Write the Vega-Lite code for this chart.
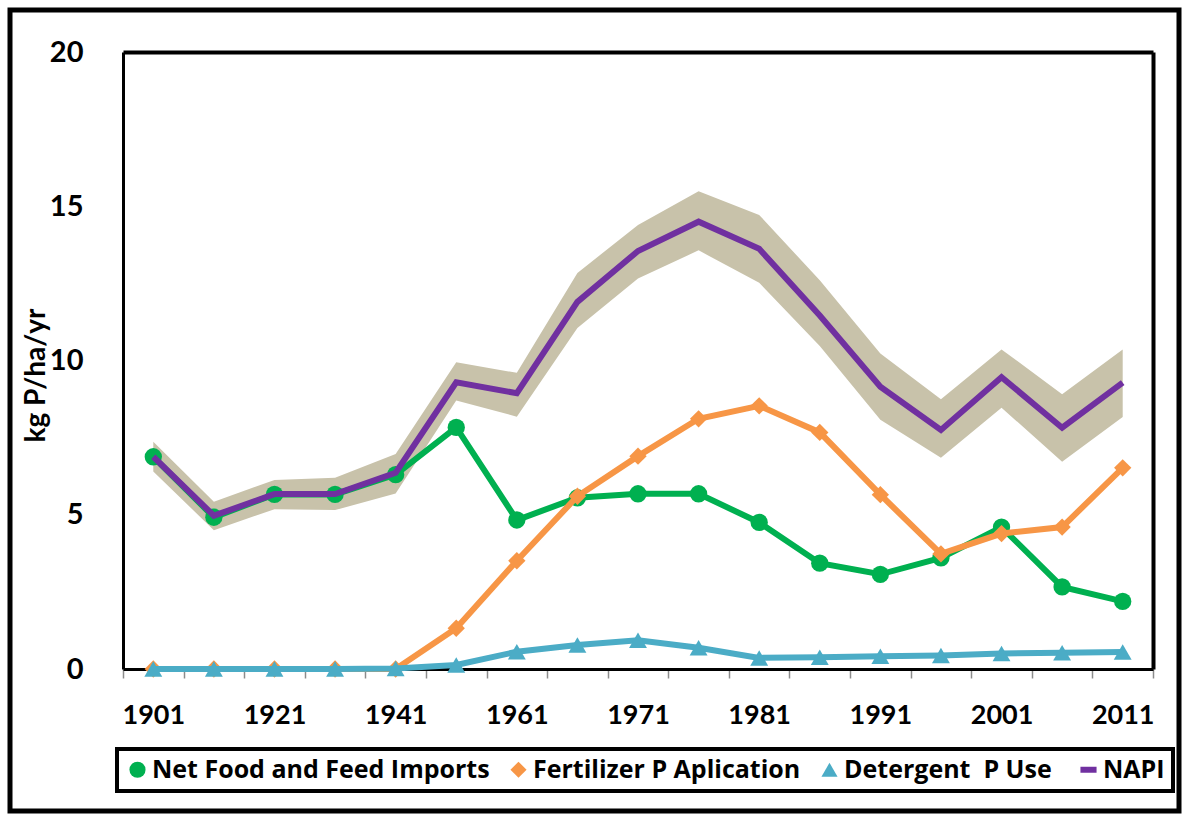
{
  "$schema": "https://vega.github.io/schema/vega-lite/v6.json",
  "width": 1169,
  "height": 801,
  "autosize": {"type": "none"},
  "padding": {"left": 10, "top": 10, "right": 3, "bottom": 3},
  "background": "white",
  "config": {
    "font": "Lato",
    "view": {"stroke": "black", "strokeWidth": 5},
    "legend": {"strokeWidth": 4}
  },
  "datasets": {
    "series": [
      {"year": "1901", "series": "Net Food and Feed Imports", "value": 6.88},
      {"year": "1911", "series": "Net Food and Feed Imports", "value": 4.92},
      {"year": "1921", "series": "Net Food and Feed Imports", "value": 5.66},
      {"year": "1931", "series": "Net Food and Feed Imports", "value": 5.66},
      {"year": "1941", "series": "Net Food and Feed Imports", "value": 6.3},
      {"year": "1951", "series": "Net Food and Feed Imports", "value": 7.83},
      {"year": "1961", "series": "Net Food and Feed Imports", "value": 4.83},
      {"year": "1966", "series": "Net Food and Feed Imports", "value": 5.55},
      {"year": "1971", "series": "Net Food and Feed Imports", "value": 5.68},
      {"year": "1976", "series": "Net Food and Feed Imports", "value": 5.68},
      {"year": "1981", "series": "Net Food and Feed Imports", "value": 4.75},
      {"year": "1986", "series": "Net Food and Feed Imports", "value": 3.43},
      {"year": "1991", "series": "Net Food and Feed Imports", "value": 3.07},
      {"year": "1996", "series": "Net Food and Feed Imports", "value": 3.6},
      {"year": "2001", "series": "Net Food and Feed Imports", "value": 4.6},
      {"year": "2006", "series": "Net Food and Feed Imports", "value": 2.66},
      {"year": "2011", "series": "Net Food and Feed Imports", "value": 2.19},
      {"year": "1901", "series": "Fertilizer P Aplication", "value": 0},
      {"year": "1911", "series": "Fertilizer P Aplication", "value": 0},
      {"year": "1921", "series": "Fertilizer P Aplication", "value": 0},
      {"year": "1931", "series": "Fertilizer P Aplication", "value": 0},
      {"year": "1941", "series": "Fertilizer P Aplication", "value": 0},
      {"year": "1951", "series": "Fertilizer P Aplication", "value": 1.32},
      {"year": "1961", "series": "Fertilizer P Aplication", "value": 3.51},
      {"year": "1966", "series": "Fertilizer P Aplication", "value": 5.6},
      {"year": "1971", "series": "Fertilizer P Aplication", "value": 6.9},
      {"year": "1976", "series": "Fertilizer P Aplication", "value": 8.11},
      {"year": "1981", "series": "Fertilizer P Aplication", "value": 8.53},
      {"year": "1986", "series": "Fertilizer P Aplication", "value": 7.67},
      {"year": "1991", "series": "Fertilizer P Aplication", "value": 5.65},
      {"year": "1996", "series": "Fertilizer P Aplication", "value": 3.73},
      {"year": "2001", "series": "Fertilizer P Aplication", "value": 4.39},
      {"year": "2006", "series": "Fertilizer P Aplication", "value": 4.6},
      {"year": "2011", "series": "Fertilizer P Aplication", "value": 6.52},
      {"year": "1901", "series": "Detergent  P Use", "value": 0},
      {"year": "1911", "series": "Detergent  P Use", "value": 0},
      {"year": "1921", "series": "Detergent  P Use", "value": 0},
      {"year": "1931", "series": "Detergent  P Use", "value": 0},
      {"year": "1941", "series": "Detergent  P Use", "value": 0.02},
      {"year": "1951", "series": "Detergent  P Use", "value": 0.13},
      {"year": "1961", "series": "Detergent  P Use", "value": 0.56},
      {"year": "1966", "series": "Detergent  P Use", "value": 0.78},
      {"year": "1971", "series": "Detergent  P Use", "value": 0.93},
      {"year": "1976", "series": "Detergent  P Use", "value": 0.69},
      {"year": "1981", "series": "Detergent  P Use", "value": 0.36},
      {"year": "1986", "series": "Detergent  P Use", "value": 0.38},
      {"year": "1991", "series": "Detergent  P Use", "value": 0.41},
      {"year": "1996", "series": "Detergent  P Use", "value": 0.44},
      {"year": "2001", "series": "Detergent  P Use", "value": 0.5},
      {"year": "2006", "series": "Detergent  P Use", "value": 0.53},
      {"year": "2011", "series": "Detergent  P Use", "value": 0.55},
      {"year": "1901", "series": "NAPI", "value": 6.88},
      {"year": "1911", "series": "NAPI", "value": 4.97},
      {"year": "1921", "series": "NAPI", "value": 5.67},
      {"year": "1931", "series": "NAPI", "value": 5.67},
      {"year": "1941", "series": "NAPI", "value": 6.36},
      {"year": "1951", "series": "NAPI", "value": 9.29},
      {"year": "1961", "series": "NAPI", "value": 8.94},
      {"year": "1966", "series": "NAPI", "value": 11.9},
      {"year": "1971", "series": "NAPI", "value": 13.55},
      {"year": "1976", "series": "NAPI", "value": 14.5},
      {"year": "1981", "series": "NAPI", "value": 13.62},
      {"year": "1986", "series": "NAPI", "value": 11.46},
      {"year": "1991", "series": "NAPI", "value": 9.15},
      {"year": "1996", "series": "NAPI", "value": 7.75},
      {"year": "2001", "series": "NAPI", "value": 9.46},
      {"year": "2006", "series": "NAPI", "value": 7.82},
      {"year": "2011", "series": "NAPI", "value": 9.28}
    ],
    "band": [
      {"year": "1901", "lo": 6.4, "hi": 7.37},
      {"year": "1911", "lo": 4.5, "hi": 5.42},
      {"year": "1921", "lo": 5.18, "hi": 6.13},
      {"year": "1931", "lo": 5.15, "hi": 6.2},
      {"year": "1941", "lo": 5.69, "hi": 6.97},
      {"year": "1951", "lo": 8.7, "hi": 9.94},
      {"year": "1961", "lo": 8.18, "hi": 9.6},
      {"year": "1966", "lo": 11.05, "hi": 12.84},
      {"year": "1971", "lo": 12.66, "hi": 14.39},
      {"year": "1976", "lo": 13.57, "hi": 15.49},
      {"year": "1981", "lo": 12.52, "hi": 14.72},
      {"year": "1986", "lo": 10.47, "hi": 12.6},
      {"year": "1991", "lo": 8.08, "hi": 10.23},
      {"year": "1996", "lo": 6.85, "hi": 8.74},
      {"year": "2001", "lo": 8.47, "hi": 10.36},
      {"year": "2006", "lo": 6.72, "hi": 8.91},
      {"year": "2011", "lo": 8.17, "hi": 10.36}
    ]
  },
  "resolve": {"axis": {"x": "independent", "y": "independent"}},
  "layer": [
    {
      "data": {"name": "band"},
      "mark": {"type": "area", "color": "#C8C2AA", "opacity": 1},
      "encoding": {
        "x": {
          "field": "year", "type": "ordinal",
          "scale": {"type": "band", "domain": ["1901","1911","1921","1931","1941","1951","1961","1966","1971","1976","1981","1986","1991","1996","2001","2006","2011"], "range": [113, 1143], "paddingInner": 0, "paddingOuter": 0},
          "axis": {
            "orient": "bottom", "offset": -142, "title": null, "labelAngle": 0,
            "labelFont": "Lato", "labelFontSize": 27, "labelFontWeight": "bold", "labelColor": "black",
            "labelPadding": 24, "tickBand": "extent", "tickSize": 9, "tickColor": "#8c8c8c", "tickWidth": 1.5,
            "domainColor": "black", "domainWidth": 3, "grid": false,
            "labelExpr": "indexof(['1911','1931','1951','1966','1976','1986','1996','2006'], datum.label) >= 0 ? '' : datum.label"
          }
        },
        "y": {
          "field": "lo", "type": "quantitative",
          "scale": {"domain": [0, 20], "range": [659, 42], "nice": false, "zero": true},
          "axis": {
            "orient": "left", "offset": -113, "values": [0, 5, 10, 15, 20], "ticks": false, "tickSize": 0,
            "labelPadding": 40, "labelFont": "Lato", "labelFontSize": 29, "labelFontWeight": "bold", "labelColor": "black",
            "domainColor": "black", "domainWidth": 3, "grid": false,
            "title": "kg P/ha/yr", "titleFont": "Lato", "titleFontSize": 28, "titleFontWeight": "bold", "titleColor": "black",
            "titleX": -87, "titleY": 365, "titleAngle": -90, "titleAlign": "center", "titleBaseline": "middle"
          }
        },
        "y2": {"field": "hi"}
      }
    },
    {
      "data": {"name": "series"},
      "transform": [{"filter": "datum.series === 'Net Food and Feed Imports'"}],
      "mark": {"type": "line", "strokeWidth": 6, "point": {"filled": true, "size": 300, "shape": "circle", "opacity": 1}},
      "encoding": {
        "x": {"field": "year", "type": "ordinal", "axis": null},
        "y": {"field": "value", "type": "quantitative", "axis": null},
        "color": {
          "field": "series", "type": "nominal",
          "scale": {"domain": ["Net Food and Feed Imports", "Fertilizer P Aplication", "Detergent  P Use", "NAPI"], "range": ["#00B050", "#F79646", "#4BACC6", "#7030A0"]},
          "legend": {
            "orient": "none", "legendX": 107, "legendY": 739, "direction": "horizontal", "columns": 4, "title": null,
            "labelFont": "Open Sans", "labelFontSize": 25, "labelFontWeight": "bold", "labelColor": "black", "labelLimit": 600, "labelOffset": 2,
            "labelExpr": "replace(datum.label, '  ', '\u00a0 ')",
            "symbolSize": 260, "columnPadding": 16, "padding": 8, "strokeColor": "black",
            "encode": {"symbols": {"update": {
              "shape": {"signal": "datum.value === 'NAPI' ? 'stroke' : datum.value === 'Fertilizer P Aplication' ? 'diamond' : datum.value === 'Detergent  P Use' ? 'triangle-up' : 'circle'"},
              "fill": {"signal": "datum.value === 'NAPI' ? 'transparent' : scale('color', datum.value)"},
              "stroke": {"signal": "scale('color', datum.value)"},
              "strokeWidth": {"signal": "datum.value === 'NAPI' ? 6 : 0"},
              "opacity": {"value": 1}
            }}}
          }
        }
      }
    },
    {
      "data": {"name": "series"},
      "transform": [{"filter": "datum.series === 'Fertilizer P Aplication'"}],
      "mark": {"type": "line", "strokeWidth": 6, "point": {"filled": true, "size": 300, "shape": "diamond", "opacity": 1}},
      "encoding": {
        "x": {"field": "year", "type": "ordinal", "axis": null},
        "y": {"field": "value", "type": "quantitative", "axis": null},
        "color": {"field": "series", "type": "nominal"}
      }
    },
    {
      "data": {"name": "series"},
      "transform": [{"filter": "datum.series === 'Detergent  P Use'"}],
      "mark": {"type": "line", "strokeWidth": 6, "point": {"filled": true, "size": 320, "shape": "triangle-up", "opacity": 1}},
      "encoding": {
        "x": {"field": "year", "type": "ordinal", "axis": null},
        "y": {"field": "value", "type": "quantitative", "axis": null},
        "color": {"field": "series", "type": "nominal"}
      }
    },
    {
      "data": {"name": "series"},
      "transform": [{"filter": "datum.series === 'NAPI'"}],
      "mark": {"type": "line", "strokeWidth": 6},
      "encoding": {
        "x": {"field": "year", "type": "ordinal", "axis": {"orient": "top", "offset": -42, "labels": false, "ticks": false, "title": null, "domainColor": "black", "domainWidth": 4, "grid": false}},
        "y": {"field": "value", "type": "quantitative", "axis": {"orient": "right", "offset": -26, "labels": false, "ticks": false, "title": null, "domainColor": "black", "domainWidth": 4, "grid": false}},
        "color": {"field": "series", "type": "nominal"}
      }
    }
  ]
}
